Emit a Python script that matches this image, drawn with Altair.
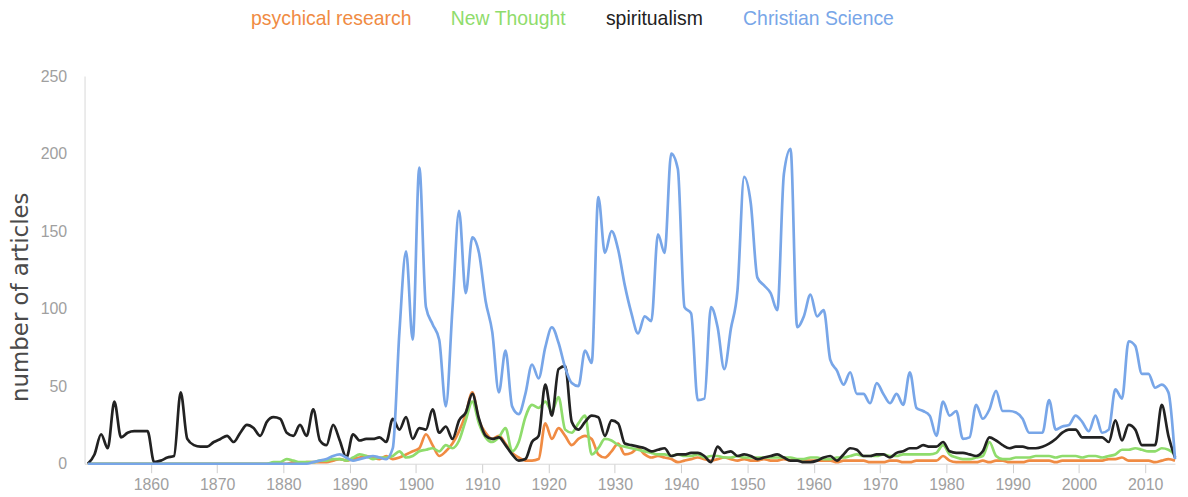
import altair as alt
import pandas as pd

years = list(range(1850, 2015))

psychical_research = [
    0, 0, 0, 0, 0, 0, 0, 0, 0, 0,
    0, 0, 0, 0, 0, 0, 0, 0, 0, 0,
    0, 0, 0, 0, 0, 0, 0, 0, 0, 0,
    0, 1, 0, 1, 1, 1, 1, 2, 3, 2,
    3, 4, 5, 4, 3, 5, 3, 4, 6, 8,
    10, 19, 12, 5, 8, 13, 21, 32, 46, 28,
    20, 16, 18, 13, 7, 4, 2, 2, 3, 26,
    16, 23, 18, 12, 16, 18, 16, 6, 4, 8,
    13, 6, 7, 10, 6, 4, 5, 4, 3, 1,
    2, 3, 4, 3, 2, 3, 4, 3, 2, 3,
    2, 2, 3, 2, 2, 3, 2, 2, 2, 2,
    2, 2, 2, 1, 2, 2, 2, 2, 1, 1,
    1, 2, 2, 1, 1, 2, 2, 2, 2, 5,
    2, 1, 1, 1, 1, 2, 1, 2, 2, 1,
    1, 1, 2, 2, 2, 2, 1, 2, 2, 2,
    2, 2, 2, 2, 3, 3, 4, 2, 2, 2,
    2, 1, 2, 3, 2,
]

new_thought = [
    0, 0, 0, 0, 0, 0, 0, 0, 0, 0,
    0, 0, 0, 0, 0, 0, 0, 0, 0, 0,
    0, 0, 0, 0, 0, 0, 0, 0, 1, 1,
    3, 2, 1, 1, 1, 2, 2, 3, 3, 2,
    4, 6, 5, 3, 4, 4, 5, 8, 4, 5,
    8, 9, 10, 8, 12, 10, 15, 28, 40, 26,
    17, 14, 17, 23, 8, 14, 30, 38, 36, 40,
    34, 43, 22, 20, 26, 31, 6, 10, 16, 15,
    12, 11, 10, 9, 8, 7, 6, 6, 5, 6,
    5, 5, 6, 4, 5, 5, 4, 4, 5, 4,
    4, 4, 4, 4, 4, 4, 4, 3, 3, 4,
    4, 3, 3, 4, 4, 5, 6, 5, 5, 5,
    6, 5, 5, 6, 6, 6, 6, 6, 7, 12,
    6, 4, 3, 3, 4, 5, 14, 5, 3, 3,
    4, 4, 4, 5, 5, 5, 4, 5, 5, 5,
    4, 5, 5, 4, 5, 6, 9, 9, 10, 9,
    8, 8, 10, 9, 6,
]

spiritualism = [
    0, 6, 19, 10, 40, 17, 20, 21, 21, 21,
    1, 2, 4, 5, 46, 16, 12, 11, 11, 14,
    16, 18, 14, 20, 25, 23, 18, 27, 30, 29,
    20, 18, 25, 18, 35, 15, 12, 25, 15, 4,
    19, 15, 16, 16, 17, 14, 29, 22, 30, 16,
    23, 22, 35, 20, 24, 16, 28, 33, 45, 29,
    18, 16, 17, 12, 6, 2, 3, 14, 18, 51,
    31, 61, 63, 27, 22, 27, 31, 30, 18, 28,
    26, 13, 12, 11, 10, 8, 9, 10, 5, 6,
    6, 7, 7, 5, 1, 11, 7, 8, 5, 6,
    5, 3, 4, 5, 6, 4, 2, 2, 1, 1,
    2, 4, 5, 2, 6, 10, 9, 5, 5, 6,
    6, 4, 7, 8, 10, 10, 12, 11, 11, 14,
    8, 7, 7, 6, 5, 8, 17, 15, 12, 10,
    11, 11, 10, 10, 11, 13, 16, 20, 22, 22,
    17, 17, 17, 17, 14, 28, 15, 25, 22, 12,
    12, 12, 38, 18, 4,
]

christian_science = [
    0, 0, 0, 0, 0, 0, 0, 0, 0, 0,
    0, 0, 0, 0, 0, 0, 0, 0, 0, 0,
    0, 0, 0, 0, 0, 0, 0, 0, 0, 0,
    0, 0, 0, 0, 1, 2, 3, 5, 6, 4,
    2, 3, 4, 5, 4, 3, 10, 85, 137, 80,
    191, 101, 90, 80, 37, 100, 163, 110, 146, 136,
    105, 85, 46, 73, 37, 32, 45, 64, 55, 75,
    88, 78, 62, 52, 50, 73, 65, 172, 136, 150,
    138, 115, 97, 84, 95, 92, 148, 136, 200, 190,
    101, 97, 41, 42, 101, 88, 61, 87, 112, 185,
    168, 120, 115, 110, 99, 187, 203, 88, 95, 109,
    95, 99, 67, 60, 51, 59, 45, 45, 39, 52,
    45, 39, 45, 38, 59, 36, 34, 31, 18, 40,
    31, 34, 16, 17, 38, 29, 35, 47, 34, 34,
    33, 29, 20, 20, 20, 41, 22, 24, 25, 31,
    27, 21, 31, 20, 22, 48, 42, 79, 76, 58,
    58, 49, 51, 46, 3,
]

series_names = ["psychical research", "New Thought", "spiritualism", "Christian Science"]
series_values = [psychical_research, new_thought, spiritualism, christian_science]
series_colors = ["#f08b43", "#8fdc6c", "#222222", "#78a6e8"]
x_ticks = list(range(1860, 2011, 10))
y_ticks = [0, 50, 100, 150, 200, 250]

rows = []
for name, vals in zip(series_names, series_values):
    for yr, v in zip(years, vals):
        rows.append({"year": yr, "series": name, "articles": v})
df = pd.DataFrame(rows)

color_expr = "".join(
    f"datum.value === '{n}' ? '{c}' : " for n, c in zip(series_names[:-1], series_colors[:-1])
) + f"'{series_colors[-1]}'"

sans = "Liberation Sans, Arial, sans-serif"

chart = alt.Chart(df).transform_calculate(
    ypos="datum.year + 0.5"
).mark_line(interpolate="monotone", strokeWidth=2.7).encode(
    x=alt.X(
        "ypos:Q",
        scale=alt.Scale(domain=[1850, 2014.5], nice=False, zero=False),
        axis=alt.Axis(
            values=x_ticks, format="d", title=None, grid=False,
            domainColor="#d8d8d8", tickColor="#cfcfcf", tickSize=9, labelPadding=4,
            labelFont=sans, labelFontSize=16, labelColor="#a0a0a0",
        ),
    ),
    y=alt.Y(
        "articles:Q",
        scale=alt.Scale(domain=[0, 250], nice=False),
        axis=alt.Axis(
            values=y_ticks, title="number of articles", grid=False, ticks=False, tickSize=0,
            labelPadding=18, domainColor="#d8d8d8",
            labelFont=sans, labelFontSize=16, labelColor="#a0a0a0",
            titleX=-57, titleY=222, titleAngle=270, titleBaseline="alphabetic",
            titleFont="DejaVu Sans", titleFontSize=23, titleFontWeight="normal", titleColor="#4a4a4a",
        ),
    ),
    color=alt.Color(
        "series:N",
        scale=alt.Scale(domain=series_names, range=series_colors),
        sort=series_names,
        legend=alt.Legend(
            title=None, orient="none", legendX=148, legendY=-67, direction="horizontal",
            symbolSize=0, symbolOpacity=0, symbolStrokeWidth=0, labelOffset=0,
            columnPadding=20, padding=0, labelLimit=0,
            labelFont=sans, labelFontSize=19.5,
            labelColor=alt.ExprRef(expr=color_expr),
        ),
    ),
).properties(
    width=1097,
    height=390,
    autosize=alt.AutoSizeParams(type="none"),
    padding={"left": 77, "top": 67, "right": 5, "bottom": 30},
).configure_view(stroke=None)

chart.save("out.html", embed_options={"renderer": "svg", "actions": False})
